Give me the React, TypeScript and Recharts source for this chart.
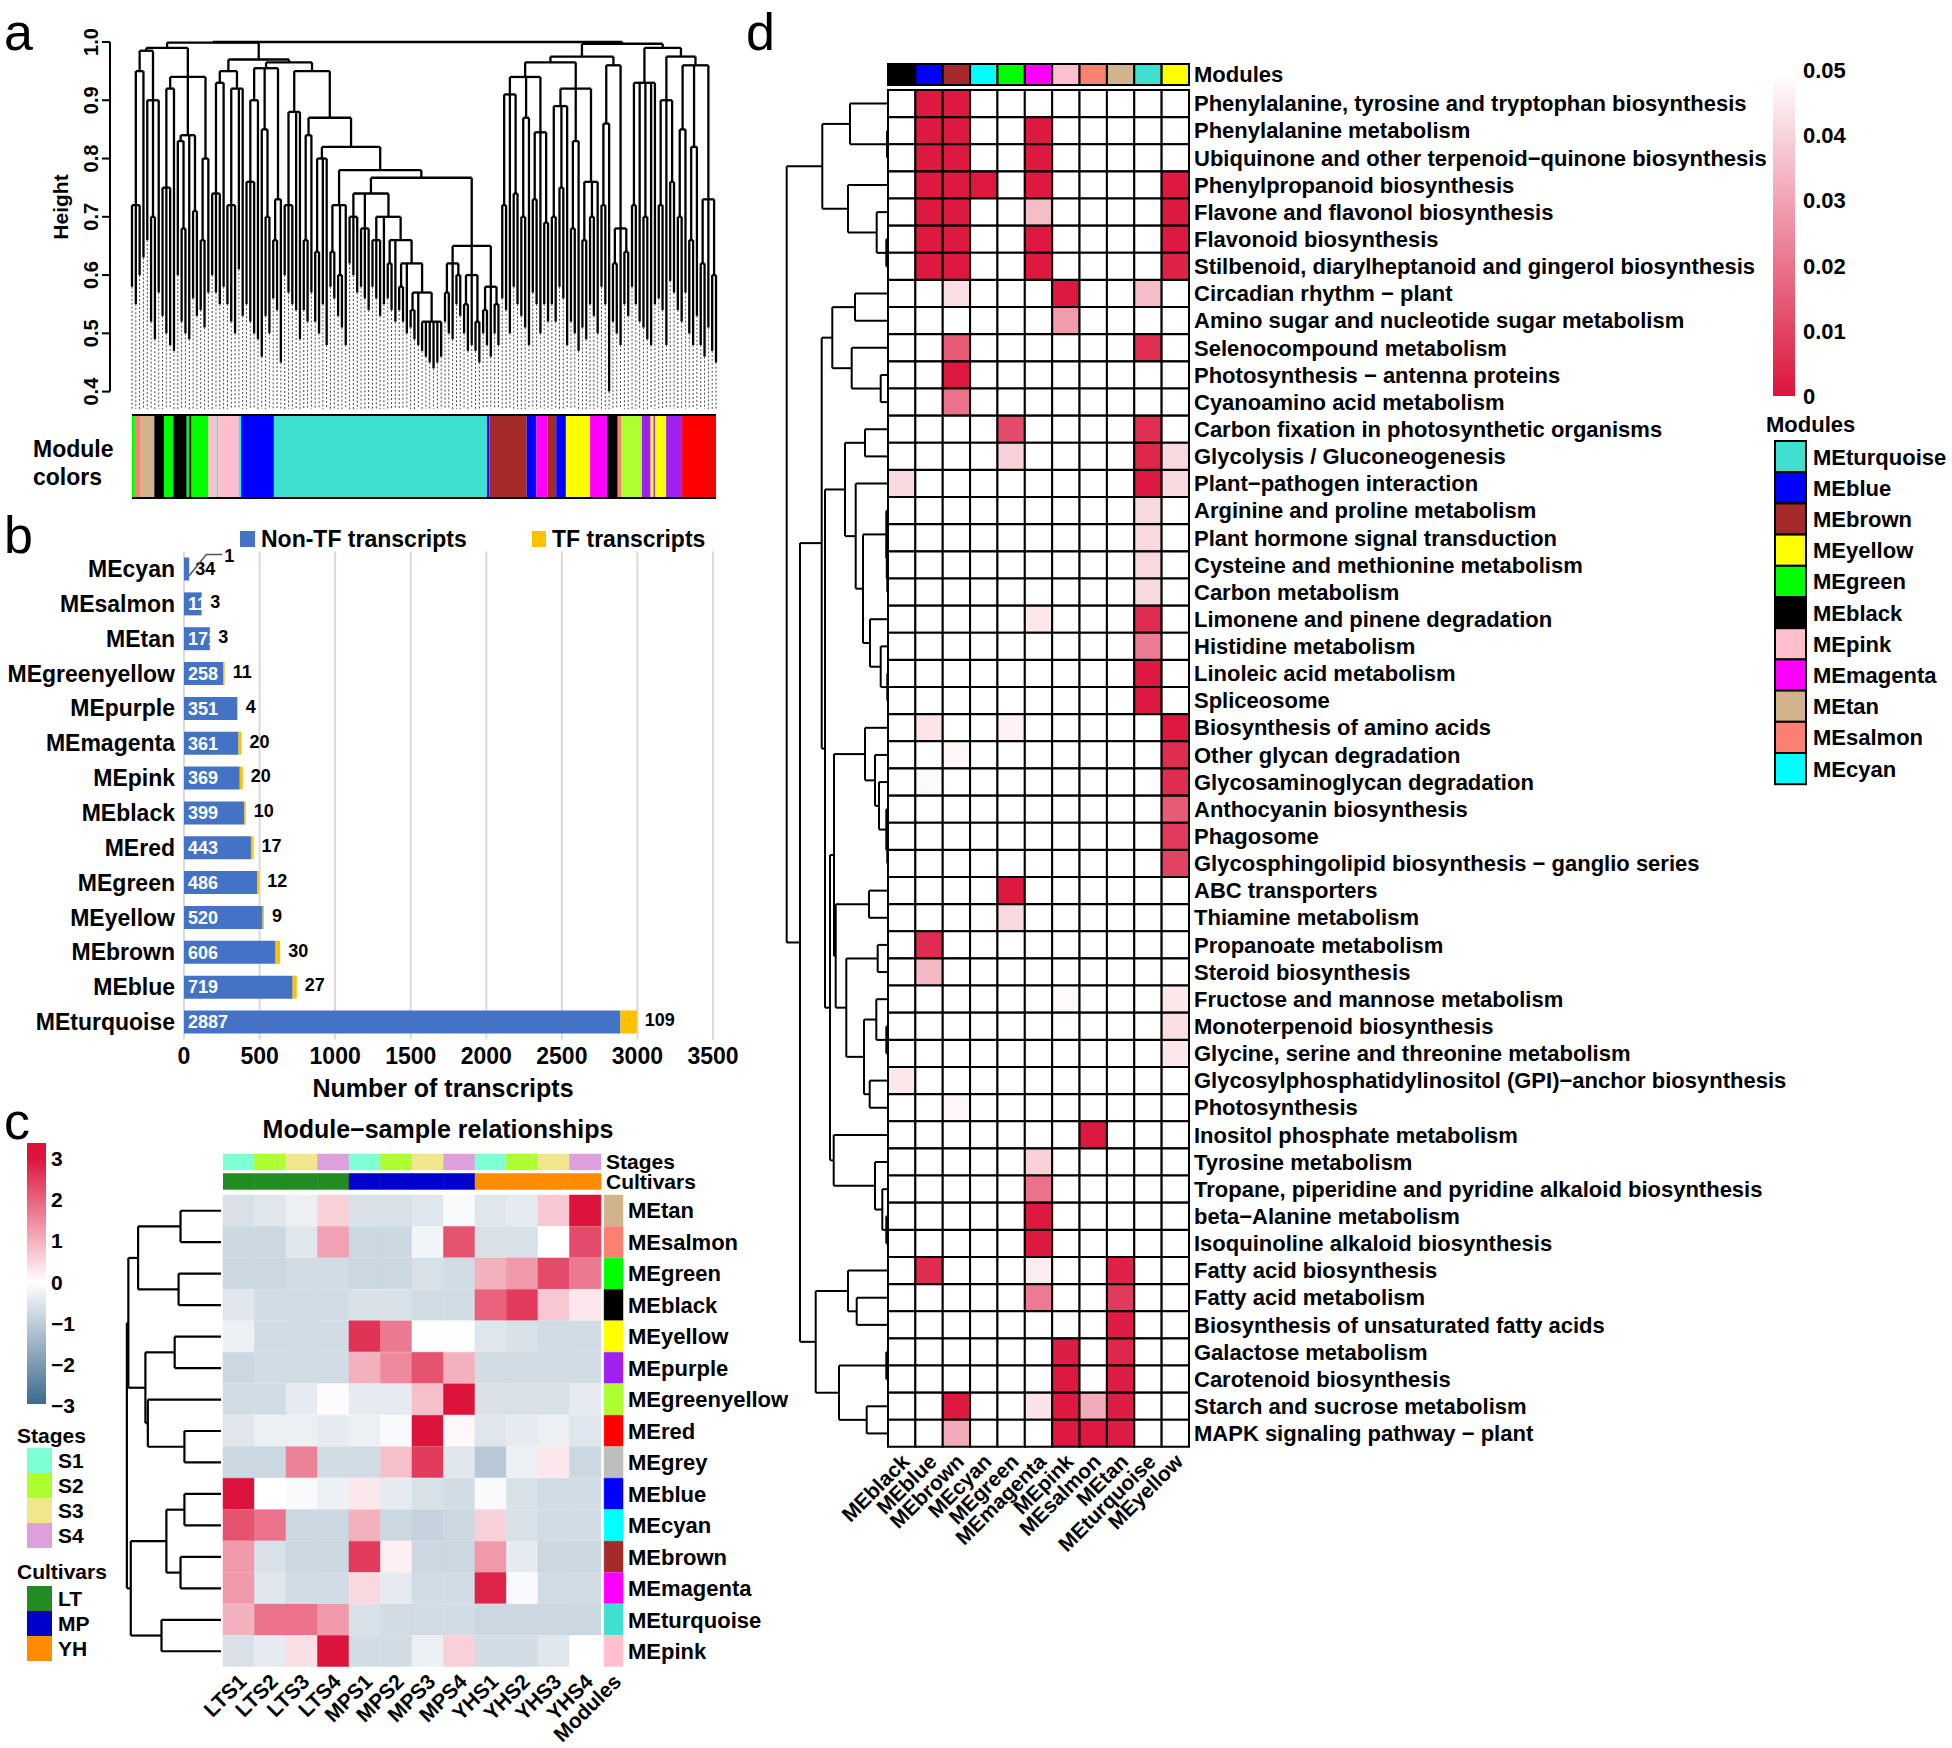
import React from 'react'
import {
  Bar,
  BarChart,
  CartesianGrid,
  Cell,
  LabelList,
  ReferenceLine,
  Scatter,
  ScatterChart,
  XAxis,
  YAxis,
} from 'recharts'

const FONT = '"Liberation Sans", Arial, Helvetica, sans-serif'

// R colour names behind the WGCNA module labels
const rColors: Record<string, string> = {
  turquoise: '#40E0D0', blue: '#0000FF', brown: '#A52A2A', yellow: '#FFFF00', green: '#00FF00',
  black: '#000000', pink: '#FFC0CB', magenta: '#FF00FF', tan: '#D2B48C', salmon: '#FA8072',
  cyan: '#00FFFF', greenyellow: '#ADFF2F', purple: '#A020F0', red: '#FF0000', grey: '#BEBEBE',
}

// ---------- a: gene dendrogram ----------
const heightTicks = [0.4, 0.5, 0.6, 0.7, 0.8, 0.9, 1.0]
// merges as [height, ...children]; a bare number is a leaf branch and the height it reaches down to
const treeLA = [0.99,
  [0.985, [0.95, [0.72, 0.58, 0.55, 0.60], 0.63], [0.90, 0.66, [0.70, 0.52, 0.49], 0.57]],
  [0.94, [0.92, [0.75, 0.53, 0.50, 0.48], 0.47], [0.84, [0.83, 0.60, [0.68, 0.52, 0.50]], 0.49, [0.71, 0.56, 0.53]], [0.80, [0.66, 0.54, 0.51], 0.57]]]
const treeLB1 = [0.95, [0.93, [0.74, 0.60, 0.57, 0.55], 0.58], [0.92, [0.72, 0.55, 0.52, 0.50], 0.61, 0.53]]
const treeLB2a = [0.955, [0.90, [0.76, 0.55, 0.52, 0.50], 0.49], [0.85, 0.46, [0.70, 0.53, 0.50]], [0.73, [0.66, 0.56, 0.54], 0.45]]
const treeTS = [0.74, [0.70, 0.62, 0.60, 0.57], [0.68, 0.58, 0.56, 0.54], [0.70, [0.66, 0.58, 0.56, 0.53], 0.55, [0.66, [0.62, 0.56, 0.54], 0.52, [0.62, [0.58, 0.54, 0.52], 0.50, [0.57, [0.54, 0.51, 0.49], 0.48, [0.52, 0.47, 0.46, 0.45, 0.44, 0.45, 0.46]]]]]]
const treeTR = [0.65, [0.62, [0.57, 0.52, 0.50], 0.49, [0.60, 0.55, 0.53]], [0.60, [0.55, 0.50, 0.47], 0.48, [0.52, 0.47, 0.45]], [0.58, [0.54, 0.50, 0.48], 0.46, [0.55, 0.50, 0.48]]]
const treeLB2b = [0.95, [0.88, [0.72, 0.60, 0.57, 0.55], 0.54, 0.49], [0.87, [0.84, [0.66, 0.54, 0.52], 0.57], [0.82, [0.80, [0.64, 0.52, 0.50], 0.55, 0.48], [0.78, [0.72, [0.64, 0.58, 0.56], [0.60, 0.53, 0.51], 0.48], [0.767, treeTS, treeTR]]]]]
const treeLeft = [0.999, treeLA, [0.97, treeLB1, [0.965, treeLB2a, treeLB2b]]]
const treeRA1 = [0.965,
  [0.94, [0.91, [0.72, 0.56, 0.54], 0.50, [0.74, 0.58, 0.55]], [0.87, [0.70, 0.53, 0.51], 0.48], [0.845, [0.73, 0.57, 0.55], 0.50, [0.69, 0.55, 0.52]]],
  [0.92, [0.89, [0.70, 0.55, 0.52], [0.75, 0.58, 0.56], 0.48], [0.83, [0.68, 0.52, 0.50], 0.47], [0.76, [0.66, 0.51, 0.49], [0.70, 0.55, 0.53], 0.50]]]
const treeRA2 = [0.96, [0.86, [0.72, 0.58, 0.55], 0.40], [0.68, [0.62, 0.52, 0.50], 0.48, [0.64, 0.55, 0.53]]]
const treeRB = [0.99, [0.93, [0.72, 0.58, 0.55], 0.52, [0.70, 0.51, 0.49], 0.48, 0.55], [0.975, [0.90, [0.72, 0.56, 0.54], 0.48, [0.76, 0.59, 0.57]], [0.96, [0.85, [0.70, 0.54, 0.52], 0.57], [0.82, [0.66, 0.50, 0.48], 0.53], [0.73, [0.62, 0.48, 0.46], 0.51, [0.60, 0.47, 0.45]]]]]
const treeRight = [0.997, [0.975, treeRA1, treeRA2], treeRB]
const geneTree = [1.0, treeLeft, treeRight]

const stripModules = ['green', 'salmon', 'tan', 'black', 'green', 'black', 'green', 'black', 'green', 'pink', 'cyan', 'pink', 'cyan', 'blue', 'turquoise', 'blue', 'brown', 'blue', 'magenta', 'brown', 'blue', 'yellow', 'magenta', 'black', 'salmon', 'greenyellow', 'purple', 'yellow', 'purple', 'yellow', 'purple', 'red']
const stripWidths = [6, 12, 28, 20, 19, 28, 5, 5, 35, 17, 3, 43, 4, 68, 440, 5, 77, 20, 23, 18, 20, 50, 35, 22, 8, 42, 18, 6, 3, 23, 33, 70]

// ---------- b: module sizes ----------
const bModules = ['MEcyan', 'MEsalmon', 'MEtan', 'MEgreenyellow', 'MEpurple', 'MEmagenta', 'MEpink', 'MEblack', 'MEred', 'MEgreen', 'MEyellow', 'MEbrown', 'MEblue', 'MEturquoise']
const nonTfCounts = [34, 117, 171, 258, 351, 361, 369, 399, 443, 486, 520, 606, 719, 2887]
const tfCounts = [1, 3, 3, 11, 4, 20, 20, 10, 17, 12, 9, 30, 27, 109]
const countTicks = [0, 500, 1000, 1500, 2000, 2500, 3000, 3500]

// ---------- c: module-sample relationships ----------
const cModules = ['MEtan', 'MEsalmon', 'MEgreen', 'MEblack', 'MEyellow', 'MEpurple', 'MEgreenyellow', 'MEred', 'MEgrey', 'MEblue', 'MEcyan', 'MEbrown', 'MEmagenta', 'MEturquoise', 'MEpink']
const cSamples = ['LTS1', 'LTS2', 'LTS3', 'LTS4', 'MPS1', 'MPS2', 'MPS3', 'MPS4', 'YHS1', 'YHS2', 'YHS3', 'YHS4']
const sampleStage = ['S1', 'S2', 'S3', 'S4', 'S1', 'S2', 'S3', 'S4', 'S1', 'S2', 'S3', 'S4']
const sampleCultivar = ['LT', 'LT', 'LT', 'LT', 'MP', 'MP', 'MP', 'MP', 'YH', 'YH', 'YH', 'YH']
const relValues = [
  [-0.6, -0.5, -0.3, 0.6, -0.6, -0.6, -0.5, -0.1, -0.5, -0.4, 0.7, 3.0],
  [-0.8, -0.8, -0.5, 1.2, -0.8, -0.8, -0.2, 2.2, -0.6, -0.6, 0.0, 2.3],
  [-0.8, -0.8, -0.7, -0.7, -0.8, -0.8, -0.6, -0.7, 1.0, 1.3, 2.3, 1.7],
  [-0.5, -0.7, -0.7, -0.7, -0.6, -0.6, -0.7, -0.7, 2.0, 2.5, 0.7, 0.3],
  [-0.3, -0.7, -0.7, -0.7, 2.6, 1.7, -0.05, -0.05, -0.5, -0.6, -0.7, -0.7],
  [-0.8, -0.7, -0.7, -0.7, 1.0, 1.5, 2.2, 1.0, -0.7, -0.7, -0.7, -0.7],
  [-0.7, -0.7, -0.4, 0.05, -0.4, -0.4, 0.8, 3.0, -0.6, -0.6, -0.6, -0.4],
  [-0.5, -0.3, -0.3, -0.4, -0.3, -0.1, 3.2, 0.1, -0.5, -0.4, -0.3, -0.5],
  [-0.8, -0.8, 1.6, -0.7, -0.7, 0.8, 2.5, -0.5, -1.1, -0.3, 0.3, -0.8],
  [3.0, 0.0, -0.1, -0.3, 0.3, -0.4, -0.6, -0.7, -0.1, -0.6, -0.7, -0.7],
  [2.2, 1.8, -0.8, -0.8, 1.0, -0.8, -0.9, -0.8, 0.6, -0.6, -0.7, -0.7],
  [1.3, -0.6, -0.8, -0.8, 2.5, 0.2, -0.8, -0.8, 1.3, -0.4, -0.8, -0.8],
  [1.3, -0.5, -0.7, -0.7, 0.5, -0.4, -0.7, -0.7, 2.8, -0.1, -0.7, -0.7],
  [1.0, 1.8, 1.8, 1.3, -0.6, -0.7, -0.7, -0.7, -0.8, -0.8, -0.8, -0.8],
  [-0.6, -0.4, 0.4, 3.1, -0.7, -0.7, -0.3, 0.6, -0.7, -0.7, -0.5, 0.0],
]
const moduleTree = [193, [190, [170, [83, 0, 0], [87, 0, 0]], [155, [95, 0, 0], [150, 0, [75, 0, 0]]]], [185, [112, [75, 0, 0], [83, 0, 0]], [122, 0, 0]]]
const relScaleTicks = [3, 2, 1, 0, -1, -2, -3]
const stageColors: Record<string, string> = { S1: '#7FFFD4', S2: '#ADFF2F', S3: '#F0E68C', S4: '#DDA0DD' }
const cultivarColors: Record<string, string> = { LT: '#228B22', MP: '#0000CD', YH: '#FF8C00' }

// ---------- d: KEGG enrichment ----------
const dModules = ['MEblack', 'MEblue', 'MEbrown', 'MEcyan', 'MEgreen', 'MEmagenta', 'MEpink', 'MEsalmon', 'MEtan', 'MEturquoise', 'MEyellow']
const pathways = [
  'Phenylalanine, tyrosine and tryptophan biosynthesis', 'Phenylalanine metabolism',
  'Ubiquinone and other terpenoid\u2212quinone biosynthesis', 'Phenylpropanoid biosynthesis',
  'Flavone and flavonol biosynthesis', 'Flavonoid biosynthesis',
  'Stilbenoid, diarylheptanoid and gingerol biosynthesis', 'Circadian rhythm \u2212 plant',
  'Amino sugar and nucleotide sugar metabolism', 'Selenocompound metabolism',
  'Photosynthesis \u2212 antenna proteins', 'Cyanoamino acid metabolism',
  'Carbon fixation in photosynthetic organisms', 'Glycolysis / Gluconeogenesis',
  'Plant\u2212pathogen interaction', 'Arginine and proline metabolism',
  'Plant hormone signal transduction', 'Cysteine and methionine metabolism', 'Carbon metabolism',
  'Limonene and pinene degradation', 'Histidine metabolism', 'Linoleic acid metabolism', 'Spliceosome',
  'Biosynthesis of amino acids', 'Other glycan degradation', 'Glycosaminoglycan degradation',
  'Anthocyanin biosynthesis', 'Phagosome', 'Glycosphingolipid biosynthesis \u2212 ganglio series',
  'ABC transporters', 'Thiamine metabolism', 'Propanoate metabolism', 'Steroid biosynthesis',
  'Fructose and mannose metabolism', 'Monoterpenoid biosynthesis',
  'Glycine, serine and threonine metabolism',
  'Glycosylphosphatidylinositol (GPI)\u2212anchor biosynthesis', 'Photosynthesis',
  'Inositol phosphate metabolism', 'Tyrosine metabolism',
  'Tropane, piperidine and pyridine alkaloid biosynthesis', 'beta\u2212Alanine metabolism',
  'Isoquinoline alkaloid biosynthesis', 'Fatty acid biosynthesis', 'Fatty acid metabolism',
  'Biosynthesis of unsaturated fatty acids', 'Galactose metabolism', 'Carotenoid biosynthesis',
  'Starch and sucrose metabolism', 'MAPK signaling pathway \u2212 plant',
]
// enriched modules per pathway with their p values (anything missing is >= 0.05)
const pathwayHits: [string, number][][] = [
  [['blue', 0.001], ['brown', 0.001]],
  [['blue', 0.001], ['brown', 0.001], ['magenta', 0.001]],
  [['blue', 0.001], ['brown', 0.001], ['magenta', 0.001]],
  [['blue', 0.001], ['brown', 0.001], ['cyan', 0.001], ['magenta', 0.001], ['yellow', 0.001]],
  [['blue', 0.001], ['brown', 0.001], ['magenta', 0.036], ['yellow', 0.001]],
  [['blue', 0.001], ['brown', 0.001], ['magenta', 0.001], ['yellow', 0.001]],
  [['blue', 0.001], ['brown', 0.001], ['magenta', 0.001], ['yellow', 0.003]],
  [['brown', 0.043], ['pink', 0.001], ['turquoise', 0.036]],
  [['pink', 0.029]],
  [['brown', 0.015], ['turquoise', 0.006]],
  [['brown', 0.001]],
  [['brown', 0.02]],
  [['green', 0.012], ['turquoise', 0.006]],
  [['green', 0.04], ['turquoise', 0.004], ['yellow', 0.042]],
  [['black', 0.042], ['turquoise', 0.001], ['yellow', 0.042]],
  [['turquoise', 0.042]],
  [['turquoise', 0.042]],
  [['turquoise', 0.042]],
  [['turquoise', 0.042]],
  [['magenta', 0.045], ['turquoise', 0.005]],
  [['turquoise', 0.022]],
  [['turquoise', 0.001]],
  [['turquoise', 0.001]],
  [['blue', 0.044], ['green', 0.047], ['yellow', 0.001]],
  [['brown', 0.048], ['yellow', 0.005]],
  [['blue', 0.049], ['yellow', 0.005]],
  [['yellow', 0.015]],
  [['yellow', 0.008]],
  [['yellow', 0.01]],
  [['green', 0.001]],
  [['green', 0.042]],
  [['blue', 0.005]],
  [['blue', 0.035]],
  [['pink', 0.049], ['yellow', 0.045]],
  [['yellow', 0.043]],
  [['yellow', 0.045]],
  [['black', 0.045]],
  [['brown', 0.048]],
  [['salmon', 0.001]],
  [['magenta', 0.04]],
  [['magenta', 0.02]],
  [['magenta', 0.001]],
  [['magenta', 0.001]],
  [['blue', 0.005], ['magenta', 0.046], ['tan', 0.003]],
  [['magenta', 0.022], ['tan', 0.008]],
  [['tan', 0.002]],
  [['pink', 0.002], ['tan', 0.004]],
  [['pink', 0.001], ['tan', 0.002]],
  [['brown', 0.001], ['magenta', 0.044], ['pink', 0.001], ['salmon', 0.032], ['tan', 0.002]],
  [['brown', 0.032], ['pink', 0.001], ['salmon', 0.001], ['tan', 0.002]],
]
const dTreeA = [65.7, [38, 0, [1, 0, 0]], [40, 0, [11.3, 0, [1.7, 0, 0]]]]
const dTreeB = [55.7, [33, 0, 0], [36.3, 0, [7.3, 0, 0]]]
const dTreeC = [43, [23, 0, 0], [32.3, 0, [25, [1.7, 0, [1.2, 0, [0.7, 0, 0]]], [18, 0, [7.3, 0, [0.7, 0, 0]]]]]]
const dTreeD = [23, 0, [13, 0, [9, 0, [1.7, 0, [0.7, 0, 0]]]]]
const dTreeP = [52.3, [19, 0, 0], [41.7, [10.3, 0, 0], [24, [11.7, 0, [1.7, 0, 0]], [18.3, 0, 0]]]]
const dTreeI = [54.3, 0, [13, 0, [5.7, 0, [1.7, 0, 0]]]]
const dTreeE = [72.3, [40, 0, [31.3, 0, 0]], [49, [1.7, 0, 0], [21.3, 0, 0]]]
const pathwayTree = [101.3, dTreeA, [88, [66.3, dTreeB, [63, dTreeC, [58, [54, dTreeD, dTreeP], dTreeI]]], dTreeE]]
const pScaleTicks = [0.05, 0.04, 0.03, 0.02, 0.01, 0]
const legendModules = ['MEturquoise', 'MEblue', 'MEbrown', 'MEyellow', 'MEgreen', 'MEblack', 'MEpink', 'MEmagenta', 'MEtan', 'MEsalmon', 'MEcyan']

// ---------- helpers ----------
const HOT = [220, 20, 60]
const COLD = [60, 106, 142]
const mix = (c: number[], t: number) => {
  const v = c.map(ch => Math.round(255 + (ch - 255) * t))
  return `rgb(${v[0]},${v[1]},${v[2]})`
}
const relColor = (v: number) => mix(v >= 0 ? HOT : COLD, Math.min(Math.abs(v) / 3, 1))
const pColor = (p: number) => (p >= 0.05 ? '#ffffff' : mix(HOT, 1 - p / 0.05))
const modColor = (m: string) => rColors[m.slice(2)]

type Seg = { x1: number; y1: number; x2: number; y2: number }
function layoutTree(tree: any) {
  const segs: Seg[] = []
  const leaves: { pos: number; h: number }[] = []
  const walk = (t: any): { pos: number; h: number } => {
    if (typeof t === 'number') {
      const leaf = { pos: leaves.length, h: t }
      leaves.push(leaf)
      return leaf
    }
    const [h, ...kids] = t
    const pts = kids.map(walk)
    pts.forEach((p: any) => segs.push({ x1: p.pos, y1: p.h, x2: p.pos, y2: h }))
    segs.push({ x1: pts[0].pos, y1: h, x2: pts[pts.length - 1].pos, y2: h })
    return { pos: (pts[0].pos + pts[pts.length - 1].pos) / 2, h }
  }
  walk(tree)
  return { segs, leaves }
}

const box = (p: any) => {
  const vb = p.viewBox && p.viewBox.width != null ? p.viewBox : p
  return { x: vb.x, y: vb.y, w: vb.width, h: vb.height }
}

function SideLabel(p: any) {
  return (
    <text x={p.x} y={p.y} dy="0.35em" textAnchor={p.anchor} fontFamily={FONT} fontWeight={700} fontSize={p.fs} fill="#000">
      {p.payload.value}
    </text>
  )
}

function SlantLabel(p: any) {
  const x = p.x + 9
  const y = p.y + 16
  return (
    <text x={x} y={y} transform={`rotate(-45 ${x} ${y})`} textAnchor="end" fontFamily={FONT} fontWeight={700} fontSize={p.fs} fill="#000">
      {p.name(p.payload.value)}
    </text>
  )
}

function HeightTick(p: any) {
  const x = p.x - 2
  return (
    <text x={x} y={p.y} transform={`rotate(-90 ${x} ${p.y})`} textAnchor="middle" fontFamily={FONT} fontWeight={700} fontSize={20} fill="#000">
      {Number(p.payload.value).toFixed(1)}
    </text>
  )
}

function CountTick(p: any) {
  return (
    <text x={p.x} y={p.y} dy="0.71em" textAnchor="middle" fontFamily={FONT} fontWeight={700} fontSize={23} fill="#000">
      {p.payload.value}
    </text>
  )
}

const invisible = () => <g />

// ---------- panels ----------
function GeneDendrogram() {
  const { segs, leaves } = layoutTree(geneTree)
  const n = leaves.length
  const xMin = -(22 / 584) * (n - 1)
  return (
    <div style={{ position: 'absolute', left: 0, top: 0 }}>
      <ScatterChart width={730} height={420} margin={{ top: 42, right: 14, bottom: 8, left: 50 }}>
        <XAxis type="number" dataKey="x" domain={[xMin, n - 1]} hide />
        <YAxis
          type="number"
          dataKey="y"
          domain={[0.365, 1]}
          ticks={heightTicks}
          interval={0}
          width={60}
          axisLine={false}
          tickLine={{ stroke: '#000', strokeWidth: 2 }}
          tickSize={8}
          tick={(p: any) => <HeightTick {...p} />}
          allowDataOverflow
        />
        <ReferenceLine segment={[{ x: xMin, y: 0.4 }, { x: xMin, y: 1 }]} stroke="#000" strokeWidth={2} ifOverflow="visible" />
        {leaves.map(l => (
          <ReferenceLine
            key={'g' + l.pos}
            segment={[{ x: l.pos, y: l.h }, { x: l.pos, y: 0.37 }]}
            stroke="#444"
            strokeWidth={1}
            strokeDasharray="2 2"
            ifOverflow="visible"
          />
        ))}
        {segs.map((s, i) => (
          <ReferenceLine
            key={i}
            segment={[{ x: s.x1, y: s.y1 }, { x: s.x2, y: s.y2 }]}
            stroke="#000"
            strokeWidth={2.3}
            ifOverflow="visible"
          />
        ))}
        <Scatter data={leaves.map(l => ({ x: l.pos, y: l.h }))} shape={invisible} isAnimationActive={false} />
      </ScatterChart>
    </div>
  )
}

function ModuleStrip() {
  const total = stripWidths.reduce((a, b) => a + b, 0)
  const row: Record<string, any> = { name: 'Module colors' }
  stripWidths.forEach((w, i) => { row['s' + i] = w })
  return (
    <div style={{ position: 'absolute', left: 132, top: 414, borderTop: '2px solid #000', borderBottom: '2px solid #000', lineHeight: 0 }}>
      <BarChart layout="vertical" width={584} height={81} data={[row]} margin={{ top: 0, right: 0, bottom: 0, left: 0 }} barCategoryGap={0}>
        <XAxis type="number" domain={[0, total]} hide />
        <YAxis type="category" dataKey="name" hide />
        {stripWidths.map((_, i) => (
          <Bar key={i} dataKey={'s' + i} stackId="m" fill={rColors[stripModules[i]]} isAnimationActive={false} />
        ))}
      </BarChart>
    </div>
  )
}

function ModuleSizes() {
  const data = bModules.map((name, i) => ({ name, nonTF: nonTfCounts[i], tf: tfCounts[i] }))
  const inner = (p: any) => {
    const { x, y, w, h } = box(p)
    const small = nonTfCounts[p.index] < 60
    if (small) {
      return (
        <text x={x + w + 6} y={y + h / 2} dy="0.35em" fontFamily={FONT} fontWeight={700} fontSize={18} fill="#000">
          {p.value}
        </text>
      )
    }
    const id = `inner-clip-${p.index}`
    return (
      <g>
        <defs>
          <clipPath id={id}>
            <rect x={x} y={y} width={w + 2} height={h} />
          </clipPath>
        </defs>
        <text x={x + 4} y={y + h / 2} dy="0.35em" clipPath={`url(#${id})`} fontFamily={FONT} fontWeight={700} fontSize={18} fill="#fff">
          {p.value}
        </text>
      </g>
    )
  }
  const outer = (p: any) => {
    const { x, y, w, h } = box(p)
    const xe = x + w
    if (nonTfCounts[p.index] < 60) {
      return (
        <g>
          <polyline points={`${xe},${y + h * 0.78} ${xe + 17},${y - 3} ${xe + 33},${y - 3}`} fill="none" stroke="#555" strokeWidth={1.5} />
          <text x={xe + 35} y={y + 4} fontFamily={FONT} fontWeight={700} fontSize={18} fill="#000">{p.value}</text>
        </g>
      )
    }
    return (
      <text x={xe + 8} y={y + h / 2 - 2} dy="0.35em" fontFamily={FONT} fontWeight={700} fontSize={18} fill="#000">
        {p.value}
      </text>
    )
  }
  return (
    <div style={{ position: 'absolute', left: 0, top: 520 }}>
      <BarChart layout="vertical" width={760} height={580} data={data} margin={{ top: 31.6, right: 47, bottom: 20.6, left: 4 }} barCategoryGap="17%">
        <CartesianGrid horizontal={false} stroke="#D9D9D9" strokeWidth={2} />
        <XAxis type="number" domain={[0, 3500]} ticks={countTicks} interval={0} height={40} axisLine={false} tickLine={false} tickSize={0} tickMargin={8} tick={(p: any) => <CountTick {...p} />} />
        <YAxis type="category" dataKey="name" width={180} interval={0} axisLine={false} tickLine={false} tickSize={0} tickMargin={9} tick={(p: any) => <SideLabel {...p} fs={23} anchor="end" />} />
        <Bar dataKey="nonTF" stackId="n" fill="#4472C4" isAnimationActive={false}>
          <LabelList dataKey="nonTF" content={inner} />
        </Bar>
        <Bar dataKey="tf" stackId="n" fill="#FFC000" isAnimationActive={false}>
          <LabelList dataKey="tf" content={outer} />
        </Bar>
      </BarChart>
    </div>
  )
}

function SideDendrogram({ tree, rows, maxH, left, top, width, height, sw }: any) {
  const { segs, leaves } = layoutTree(tree)
  return (
    <div style={{ position: 'absolute', left, top }}>
      <ScatterChart width={width} height={height} margin={{ top: 2, right: 2, bottom: 2, left: 0 }}>
        <XAxis type="number" dataKey="x" domain={[0, maxH]} reversed hide />
        <YAxis type="number" dataKey="y" domain={[-0.5, rows - 0.5]} reversed hide />
        {segs.map((s, i) => (
          <ReferenceLine
            key={i}
            segment={[{ x: s.y1, y: s.x1 }, { x: s.y2, y: s.x2 }]}
            stroke="#000"
            strokeWidth={sw}
            ifOverflow="visible"
          />
        ))}
        <Scatter data={leaves.map(l => ({ x: 0, y: l.pos }))} shape={invisible} isAnimationActive={false} />
      </ScatterChart>
    </div>
  )
}

function ModuleSampleHeatmap() {
  const annotRows = ['Stages', 'Cultivars'].map(name => {
    const r: Record<string, any> = { name }
    cSamples.forEach(s => { r[s] = 1 })
    return r
  })
  const relRows = cModules.map(name => {
    const r: Record<string, any> = { name }
    cSamples.forEach(s => { r[s] = 1 })
    r.gap = 0.1
    r.mod = 0.6
    return r
  })
  const colTicks = [...cSamples.map((_, j) => j + 0.5), 12.4]
  const colName = (v: number) => (v > 12 ? 'Modules' : cSamples[Math.floor(v)])
  return (
    <>
      <div style={{ position: 'absolute', left: 223, top: 1142 }}>
        <BarChart layout="vertical" width={560} height={59} data={annotRows} margin={{ top: 10, right: 0, bottom: 10, left: 0 }} barCategoryGap="10%">
          <XAxis type="number" domain={[0, 12]} hide />
          <YAxis type="category" dataKey="name" orientation="right" width={182} interval={0} axisLine={false} tickLine={false} tickSize={0} tickMargin={5} tick={(p: any) => <SideLabel {...p} fs={21} anchor="start" />} />
          {cSamples.map((s, j) => (
            <Bar key={s} dataKey={s} stackId="a" isAnimationActive={false}>
              <Cell fill={stageColors[sampleStage[j]]} stroke={stageColors[sampleStage[j]]} strokeWidth={0.5} />
              <Cell fill={cultivarColors[sampleCultivar[j]]} stroke={cultivarColors[sampleCultivar[j]]} strokeWidth={0.5} />
            </Bar>
          ))}
        </BarChart>
      </div>
      <div style={{ position: 'absolute', left: 0, top: 1100 }}>
        <BarChart layout="vertical" width={820} height={648} data={relRows} margin={{ top: 95, right: 0, bottom: 11, left: 223 }} barCategoryGap={0}>
          <XAxis type="number" domain={[0, 12.7]} ticks={colTicks} interval={0} height={70} axisLine={false} tickLine={false} tickSize={0} tickMargin={0} tick={(p: any) => <SlantLabel {...p} fs={21} name={colName} />} />
          <YAxis type="category" dataKey="name" orientation="right" width={197} interval={0} axisLine={false} tickLine={false} tickSize={0} tickMargin={5} tick={(p: any) => <SideLabel {...p} fs={22} anchor="start" />} />
          {cSamples.map((s, j) => (
            <Bar key={s} dataKey={s} stackId="h" isAnimationActive={false}>
              {cModules.map((m, i) => {
                const f = relColor(relValues[i][j])
                return <Cell key={m} fill={f} stroke={f} strokeWidth={0.5} />
              })}
            </Bar>
          ))}
          <Bar dataKey="gap" stackId="h" fill="none" isAnimationActive={false} />
          <Bar dataKey="mod" stackId="h" isAnimationActive={false}>
            {cModules.map(m => <Cell key={m} fill={modColor(m)} stroke={modColor(m)} strokeWidth={0.5} />)}
          </Bar>
        </BarChart>
      </div>
      <SideDendrogram tree={moduleTree} rows={cModules.length} maxH={203} left={122} top={1193} width={101} height={476} sw={2.2} />
    </>
  )
}

function PathwayHeatmap() {
  const pMatrix = pathways.map((_, i) =>
    dModules.map(m => {
      const hit = pathwayHits[i].find(([mod]) => 'ME' + mod === m)
      return hit ? hit[1] : 1
    }),
  )
  const rows = pathways.map(name => {
    const r: Record<string, any> = { name }
    dModules.forEach(m => { r[m] = 1 })
    return r
  })
  const topRow: Record<string, any> = { name: 'Modules' }
  dModules.forEach(m => { topRow[m] = 1 })
  const colTicks = dModules.map((_, j) => j + 0.5)
  const colName = (v: number) => dModules[Math.floor(v)]
  return (
    <>
      <div style={{ position: 'absolute', left: 886, top: 52 }}>
        <BarChart layout="vertical" width={923} height={45} data={[topRow]} margin={{ top: 12, right: 0, bottom: 12, left: 2 }} barCategoryGap={0}>
          <XAxis type="number" domain={[0, 11]} hide />
          <YAxis type="category" dataKey="name" orientation="right" width={620} interval={0} axisLine={false} tickLine={false} tickSize={0} tickMargin={5} tick={(p: any) => <SideLabel {...p} fs={22} anchor="start" />} />
          {dModules.map(m => (
            <Bar key={m} dataKey={m} stackId="t" fill={modColor(m)} stroke="#000" strokeWidth={2} isAnimationActive={false} />
          ))}
        </BarChart>
      </div>
      <SideDendrogram tree={pathwayTree} rows={pathways.length} maxH={104} left={784} top={88} width={106} height={1361} sw={2} />
      <div style={{ position: 'absolute', left: 786, top: 88 }}>
        <BarChart layout="vertical" width={1023} height={1489} data={rows} margin={{ top: 2, right: 0, bottom: 0, left: 102 }} barCategoryGap={0}>
          <XAxis type="number" domain={[0, 11]} ticks={colTicks} interval={0} height={130} axisLine={false} tickLine={false} tickSize={0} tickMargin={0} tick={(p: any) => <SlantLabel {...p} fs={21} name={colName} />} />
          <YAxis type="category" dataKey="name" orientation="right" width={620} interval={0} axisLine={false} tickLine={false} tickSize={0} tickMargin={5} tick={(p: any) => <SideLabel {...p} fs={22} anchor="start" />} />
          {dModules.map((m, j) => (
            <Bar key={m} dataKey={m} stackId="p" stroke="#000" strokeWidth={2} isAnimationActive={false}>
              {pathways.map((pw, i) => <Cell key={pw} fill={pColor(pMatrix[i][j])} />)}
            </Bar>
          ))}
        </BarChart>
      </div>
    </>
  )
}

function Overlay() {
  const t = { fontFamily: FONT, fontWeight: 700, fill: '#000' }
  const relY = (v: number) => 1282 - 41.3 * v
  const pY = (v: number) => 396 - v * 6520
  return (
    <svg width={1952} height={1748} style={{ position: 'absolute', left: 0, top: 0, pointerEvents: 'none' }}>
      <defs>
        <linearGradient id="relGrad" x1="0" y1="0" x2="0" y2="1">
          <stop offset="0.057" stopColor={relColor(3)} />
          <stop offset="0.533" stopColor="#ffffff" />
          <stop offset="1" stopColor={relColor(-3)} />
        </linearGradient>
        <linearGradient id="pGrad" x1="0" y1="0" x2="0" y2="1">
          <stop offset="0" stopColor="#ffffff" />
          <stop offset="1" stopColor={pColor(0)} />
        </linearGradient>
      </defs>

      {/* panel letters */}
      <text x={4} y={50} fontFamily={FONT} fontSize={52} fill="#000">a</text>
      <text x={4} y={553} fontFamily={FONT} fontSize={52} fill="#000">b</text>
      <text x={4} y={1139} fontFamily={FONT} fontSize={52} fill="#000">c</text>
      <text x={746} y={50} fontFamily={FONT} fontSize={52} fill="#000">d</text>

      {/* a */}
      <text x={68} y={207} transform="rotate(-90 68 207)" textAnchor="middle" fontSize={21} {...t}>Height</text>
      <text x={33} y={457} fontSize={23} {...t}>Module</text>
      <text x={33} y={485} fontSize={23} {...t}>colors</text>

      {/* b */}
      <rect x={240} y={531} width={15} height={16} fill="#4472C4" />
      <text x={261} y={547} fontSize={23} {...t}>Non-TF transcripts</text>
      <rect x={532} y={531} width={14} height={16} fill="#FFC000" />
      <text x={552} y={547} fontSize={23} {...t}>TF transcripts</text>
      <text x={443} y={1097} textAnchor="middle" fontSize={25} {...t}>Number of transcripts</text>

      {/* c */}
      <text x={438} y={1138} textAnchor="middle" fontSize={25} {...t}>Module{'\u2212'}sample relationships</text>
      <rect x={27} y={1143} width={19} height={261} fill="url(#relGrad)" />
      {relScaleTicks.map(v => (
        <text key={v} x={51} y={relY(v) + 7.5} fontSize={21} {...t}>{v < 0 ? '\u2212' + Math.abs(v) : v}</text>
      ))}
      <text x={17} y={1443} fontSize={21} {...t}>Stages</text>
      {Object.keys(stageColors).map((s, k) => (
        <g key={s}>
          <rect x={27} y={1448 + k * 25} width={25} height={25} fill={stageColors[s]} />
          <text x={58} y={1468 + k * 25} fontSize={21} {...t}>{s}</text>
        </g>
      ))}
      <text x={17} y={1579} fontSize={21} {...t}>Cultivars</text>
      {Object.keys(cultivarColors).map((s, k) => (
        <g key={s}>
          <rect x={27} y={1586 + k * 25} width={25} height={25} fill={cultivarColors[s]} />
          <text x={58} y={1606 + k * 25} fontSize={21} {...t}>{s}</text>
        </g>
      ))}

      {/* d */}
      <rect x={1773} y={pY(0.0492)} width={22} height={pY(0) - pY(0.0492)} fill="url(#pGrad)" />
      {pScaleTicks.map(v => (
        <text key={v} x={1803} y={pY(v) + 8} fontSize={22} {...t}>{v === 0 ? '0' : v.toFixed(2)}</text>
      ))}
      <text x={1766} y={432} fontSize={22} {...t}>Modules</text>
      {legendModules.map((m, k) => (
        <g key={m}>
          <rect x={1775} y={441 + k * 31.2} width={31} height={31.2} fill={modColor(m)} stroke="#000" strokeWidth={2} />
          <text x={1813} y={456.6 + k * 31.2 + 8} fontSize={22} {...t}>{m}</text>
        </g>
      ))}
    </svg>
  )
}

export default function App() {
  return (
    <div style={{ position: 'relative', width: 1952, height: 1748, background: '#fff', overflow: 'hidden', fontFamily: FONT }}>
      <style>{'body{margin:0}'}</style>
      <GeneDendrogram />
      <ModuleStrip />
      <ModuleSizes />
      <ModuleSampleHeatmap />
      <PathwayHeatmap />
      <Overlay />
    </div>
  )
}
